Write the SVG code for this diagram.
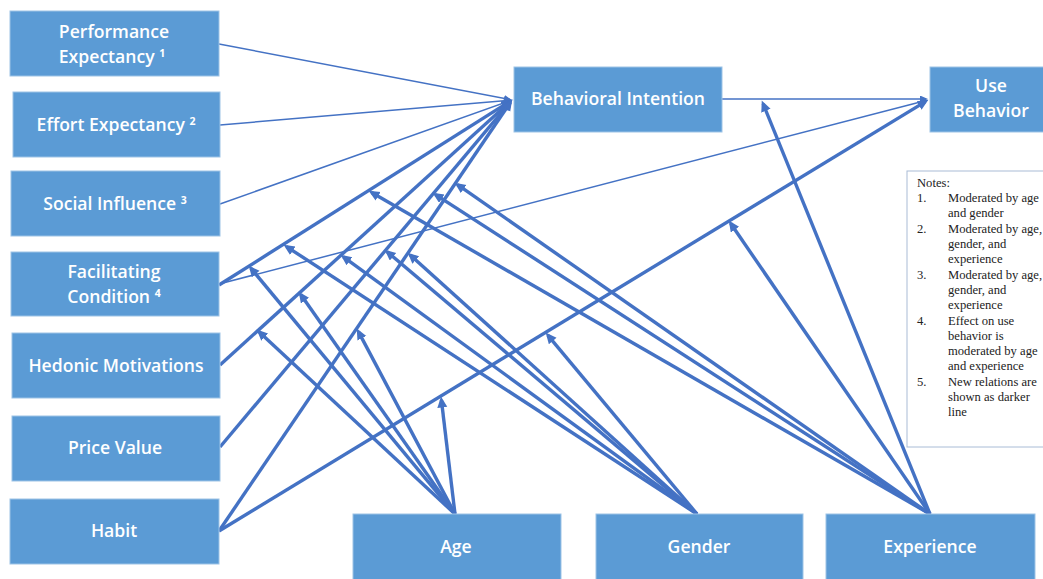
<svg xmlns="http://www.w3.org/2000/svg" width="1043" height="579" viewBox="0 0 1043 579">
<style>
.box{fill:#5B9BD5;stroke:#9DC3E6;stroke-width:1}
.lbl{font-family:"Open Sans","Liberation Sans",sans-serif;font-weight:600;font-size:17.6px;fill:#FFFFFF;text-anchor:middle}
.sup{font-size:10.5px;font-weight:700}
.thin{stroke:#4472C4;stroke-width:1.5;fill:none;marker-end:url(#ahs)}
.thick{stroke:#4472C4;stroke-width:3.4;fill:none;marker-end:url(#ah)}
.note{font-family:"Liberation Serif","Times New Roman",serif;font-size:12.6px;fill:#222222}
</style>
<defs>
<marker id="ah" markerWidth="13" markerHeight="11" refX="7.5" refY="5" orient="auto" markerUnits="userSpaceOnUse"><path d="M0,0 L11,5 L0,10 z" fill="#4472C4"/></marker>
<marker id="ahs" markerWidth="10" markerHeight="8" refX="6" refY="3.5" orient="auto" markerUnits="userSpaceOnUse"><path d="M0,0 L8,3.5 L0,7 z" fill="#4472C4"/></marker>
</defs>
<rect width="1043" height="579" fill="#FFFFFF"/>

<g id="connectors">
<line class="thin" x1="219" y1="44" x2="510" y2="99.6"/>
<line class="thin" x1="220" y1="125" x2="510" y2="100.2"/>
<line class="thin" x1="220" y1="204" x2="510.1" y2="100.7"/>
<line class="thin" x1="219" y1="284" x2="926.1" y2="100.5"/>
<line class="thin" x1="722" y1="99" x2="926" y2="99"/>
<line class="thick" x1="219" y1="285" x2="509.5" y2="101.6"/>
<line class="thick" x1="220" y1="365" x2="509.8" y2="102"/>
<line class="thick" x1="220" y1="447" x2="510.1" y2="102.3"/>
<line class="thick" x1="219" y1="531" x2="510.3" y2="102.5"/>
<line class="thick" x1="219" y1="531" x2="925.4" y2="101.6"/>
<!-- Age moderators -->
<line class="thick" x1="455" y1="514" x2="250.9" y2="268.3"/>
<line class="thick" x1="455" y1="514" x2="300.7" y2="294.5"/>
<line class="thick" x1="455" y1="514" x2="259.2" y2="332"/>
<line class="thick" x1="455" y1="514" x2="358.4" y2="331.6"/>
<line class="thick" x1="455" y1="514" x2="441.4" y2="400"/>
<!-- Gender moderators -->
<line class="thick" x1="697" y1="514" x2="286.5" y2="246.6"/>
<line class="thick" x1="697" y1="514" x2="343.4" y2="256.8"/>
<line class="thick" x1="697" y1="514" x2="387.3" y2="251.9"/>
<line class="thick" x1="697" y1="514" x2="410.2" y2="255"/>
<line class="thick" x1="697" y1="514" x2="547.9" y2="335.3"/>
<!-- Experience moderators -->
<line class="thick" x1="930" y1="514" x2="371.6" y2="192.5"/>
<line class="thick" x1="930" y1="514" x2="435.5" y2="194.6"/>
<line class="thick" x1="930" y1="514" x2="457.5" y2="184.7"/>
<line class="thick" x1="930" y1="514" x2="730.7" y2="223.5"/>
<line class="thick" x1="930" y1="514" x2="763.1" y2="103.8"/>
</g>

<g id="pe"><rect class="box" x="10" y="11" width="209" height="65"/>
<text class="lbl" x="114" y="38">Performance</text>
<text class="lbl" x="112" y="63">Expectancy <tspan class="sup" dy="-6">1</tspan></text></g>
<g id="ee"><rect class="box" x="13" y="92" width="207" height="65"/>
<text class="lbl" x="116" y="131">Effort Expectancy <tspan class="sup" dy="-6">2</tspan></text></g>
<g id="si"><rect class="box" x="11" y="171" width="209" height="65"/>
<text class="lbl" x="115" y="210">Social Influence <tspan class="sup" dy="-6">3</tspan></text></g>
<g id="fc"><rect class="box" x="11" y="252" width="208" height="64"/>
<text class="lbl" x="114" y="278">Facilitating</text>
<text class="lbl" x="114" y="303">Condition <tspan class="sup" dy="-6">4</tspan></text></g>
<g id="hm"><rect class="box" x="12" y="333" width="208" height="65"/>
<text class="lbl" x="116" y="372">Hedonic Motivations</text></g>
<g id="pv"><rect class="box" x="12" y="416" width="208" height="65"/>
<text class="lbl" x="115" y="454">Price Value</text></g>
<g id="habit"><rect class="box" x="10" y="499" width="209" height="65"/>
<text class="lbl" x="114" y="537">Habit</text></g>
<g id="bi"><rect class="box" x="514" y="67" width="208" height="65"/>
<text class="lbl" x="618" y="105">Behavioral Intention</text></g>
<g id="ub"><rect class="box" x="930" y="67" width="120" height="65"/>
<text class="lbl" x="991" y="92">Use</text>
<text class="lbl" x="991" y="117">Behavior</text></g>
<g id="age"><rect class="box" x="353" y="514" width="208" height="70"/>
<text class="lbl" x="456" y="553">Age</text></g>
<g id="gender"><rect class="box" x="596" y="514" width="207" height="70"/>
<text class="lbl" x="699" y="553">Gender</text></g>
<g id="experience"><rect class="box" x="826" y="514" width="209" height="70"/>
<text class="lbl" x="930" y="553">Experience</text></g>

<g id="notes">
<rect x="907" y="171" width="145" height="276" fill="#FFFFFF" stroke="#A9BCD6" stroke-width="1"/>
<text class="note" x="917" y="187">Notes:</text>
<text class="note" x="917" y="202">1.</text><text class="note" x="948" y="202">Moderated by age</text>
<text class="note" x="948" y="217">and gender</text>
<text class="note" x="917" y="233">2.</text><text class="note" x="948" y="233">Moderated by age,</text>
<text class="note" x="948" y="248">gender, and</text>
<text class="note" x="948" y="263">experience</text>
<text class="note" x="917" y="279">3.</text><text class="note" x="948" y="279">Moderated by age,</text>
<text class="note" x="948" y="294">gender, and</text>
<text class="note" x="948" y="309">experience</text>
<text class="note" x="917" y="325">4.</text><text class="note" x="948" y="325">Effect on use</text>
<text class="note" x="948" y="340">behavior is</text>
<text class="note" x="948" y="355">moderated by age</text>
<text class="note" x="948" y="370">and experience</text>
<text class="note" x="917" y="386">5.</text><text class="note" x="948" y="386">New relations are</text>
<text class="note" x="948" y="401">shown as darker</text>
<text class="note" x="948" y="416">line</text>
</g>
</svg>
